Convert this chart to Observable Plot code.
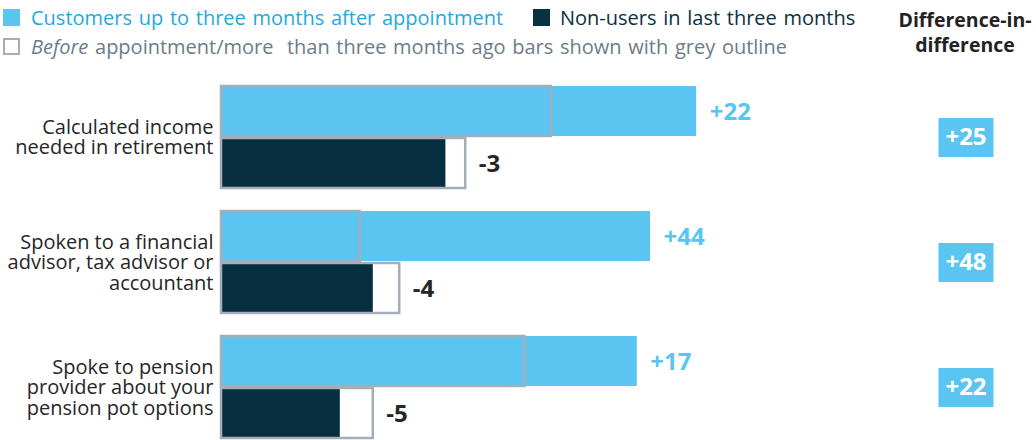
<!DOCTYPE html>
<html>
<head>
<meta charset="utf-8">
<script src="https://cdn.jsdelivr.net/npm/d3@7"></script>
<script src="https://cdn.jsdelivr.net/npm/@observablehq/plot@0.6"></script>
<style>
  body { margin: 0; background: #fff; font-family: "Open Sans", "Noto Sans", sans-serif; }
  #wrap { position: relative; width: 1036px; height: 440px; overflow: hidden; }
  .legend { position: relative; height: 72px; }
  .item { position: absolute; white-space: nowrap; font-size: 20px; line-height: 24px; word-spacing: 1.5px; }
  .sw { position: absolute; width: 17px; height: 17px; box-sizing: border-box; }
  .head { position: absolute; left: 865px; width: 200px; top: 7px; text-align: center;
          font-weight: 700; font-size: 19.5px; line-height: 25px; color: #222; }
  svg { display: block; }
</style>
</head>
<body>
<div id="wrap">
  <div class="legend" id="legend"></div>
  <div id="chart"></div>
</div>
<script>
// ---- data ----
const categories = [
  "Calculated income\nneeded in retirement",
  "Spoken to a financial\nadvisor, tax advisor or\naccountant",
  "Spoke to pension\nprovider about your\npension pot options"
];
const seriesNames = [
  "Customers up to three months after appointment",
  "Non-users in last three months"
];
const customersAfter  = [72, 65, 63];
const customersBefore = [50, 21, 46];
const nonUsersAfter   = [34, 23, 18];
const nonUsersBefore  = [37, 27, 23];
const diffInDiff      = [25, 48, 22];
const beforeNote = "appointment/more&nbsp; than three months ago bars shown with grey outline";
const headTitle = ["Difference-in-", "difference"];

// ---- styles ----
const BLUE = "#5bc5f2";
const DARK = "#082f40";
const GREY = "#a3aeb8";
const LEG_BLUE = "#1fa8e0";
const LEG_DARK = "#0b3041";
const LEG_GREY = "#6b7c8a";
const TXT = "#262626";

// ---- legend (HTML) ----
const legend = document.getElementById("legend");
legend.innerHTML = `
  <div class="sw" style="left:3px;top:9px;background:${BLUE}"></div>
  <div class="item" style="left:31px;top:6px;color:${LEG_BLUE}">${seriesNames[0]}</div>
  <div class="sw" style="left:533px;top:9px;background:${LEG_DARK}"></div>
  <div class="item" style="left:560px;top:6px;color:${LEG_DARK}">${seriesNames[1]}</div>
  <div class="sw" style="left:3px;top:38px;border:2.5px solid ${GREY}"></div>
  <div class="item" style="left:31px;top:35px;color:${LEG_GREY}"><i>Before</i> ${beforeNote}</div>
  <div class="head">${headTitle[0]}<br>${headTitle[1]}</div>
`;

// ---- table ----
const rows = [];
categories.forEach((c, i) => {
  rows.push({category: c, series: seriesNames[0], after: customersAfter[i], before: customersBefore[i]});
  rows.push({category: c, series: seriesNames[1], after: nonUsersAfter[i], before: nonUsersBefore[i]});
});
const cats = categories.map((c, i) => ({category: c, did: diffInDiff[i]}));
const signed = v => (v > 0 ? "+" : v < 0 ? "-" : "") + Math.abs(v);

const boxSymbol = { draw(ctx) { ctx.rect(-27.5, -19.5, 55, 39); } };

const plot = Plot.plot({
  width: 1036,
  height: 368,
  marginLeft: 221,
  marginRight: 155,
  marginTop: 14,
  marginBottom: 2,
  style: { fontFamily: "'Open Sans', 'Noto Sans', sans-serif", background: "#fff" },
  x: { domain: [0, 100], axis: null },
  y: { domain: seriesNames, paddingInner: 0.04, paddingOuter: 0, axis: null },
  fy: { domain: categories, paddingInner: 0.184, paddingOuter: 0, round: false, axis: null },
  color: { domain: seriesNames, range: [BLUE, DARK] },
  marks: [
    Plot.barX(rows, { x: "after", y: "series", fy: "category", fill: "series" }),
    Plot.barX(rows, { x: "before", y: "series", fy: "category", fill: "none", stroke: GREY, strokeWidth: 2.5 }),
    Plot.text(rows, {
      x: d => Math.max(d.after, d.before), y: "series", fy: "category",
      text: d => signed(d.after - d.before),
      textAnchor: "start", dx: 13, dy: 1,
      fill: d => d.series === seriesNames[0] ? BLUE : TXT,
      fontWeight: "bold", fontSize: 24
    }),
    Plot.text(cats, {
      fy: "category", text: "category", frameAnchor: "left", textAnchor: "end",
      dx: -8, fontSize: 20, lineHeight: 1.03, fill: TXT, wordSpacing: "3px"
    }),
    Plot.dot(cats, {
      fy: "category", frameAnchor: "right", dx: 84.5, symbol: boxSymbol, fill: BLUE, stroke: "none"
    }),
    Plot.text(cats, {
      fy: "category", frameAnchor: "right", dx: 84.5, text: d => signed(d.did),
      fill: "#fff", fontWeight: "bold", fontSize: 24, textAnchor: "middle"
    })
  ]
});
document.getElementById("chart").appendChild(plot);
</script>
</body>
</html>
